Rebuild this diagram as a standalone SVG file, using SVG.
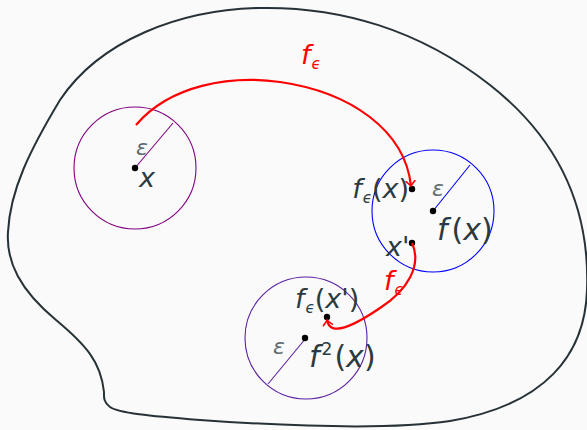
<svg xmlns="http://www.w3.org/2000/svg" width="587" height="430" viewBox="0 0 587 430">
<defs>
<style>
.bg{fill:#fafafa}
.blob{fill:none;stroke:#263238;stroke-width:2}
.ball{fill:none;stroke-width:1.1}
.dot{fill:#000}
.arr{fill:none;stroke:#ff0000;stroke-width:2.2}
.lbl{font-family:"DejaVu Sans","Noto Sans",sans-serif;fill:#2b3a40;font-size:27px}
.big{font-size:30px}
.it{font-style:italic}
.sub{font-size:15px;font-style:italic}
.eps{font-family:"DejaVu Sans","Noto Sans",sans-serif;font-style:italic;fill:#5f6b70;font-size:22px}
.red{fill:#ff0000}
</style>
<marker id="ah" viewBox="-6 -6 8 12" markerWidth="8" markerHeight="12" refX="0" refY="0" orient="auto" markerUnits="userSpaceOnUse">
<path d="M-5,-4.5 Q-1.5,-1 0,0 Q-1.5,1 -5,4.5" fill="none" stroke="#ff0000" stroke-width="1.6" stroke-linecap="round"/>
</marker>
</defs>
<rect class="bg" x="0" y="0" width="587" height="430"/>
<g id="space">
<path class="blob" d="M104,392 C101,362 86,345 56,320 C20,290 6,262 8,232 C10,190 30,150 60,100 C100,40 180,10 258,8 C340,6 420,30 490,85 C560,140 590,210 587,290 C585,355 545,405 450,421 C390,430 300,427 200,420 C150,416 118,413 110,407 C103,402 104,396 104,392 Z"/>
</g>
<g id="ball-x">
<circle class="ball" stroke="#800080" cx="135" cy="168" r="61"/>
<line x1="135" y1="168" x2="173" y2="123" stroke="#800080" stroke-width="1.1"/>
<circle class="dot" cx="135" cy="168" r="3.2"/>
<text class="eps" x="136" y="155">ε</text>
<text class="lbl it" x="139" y="187">x</text>
</g>
<g id="ball-fx">
<circle class="ball" stroke="#0000ff" cx="433" cy="211" r="61"/>
<line x1="433" y1="211" x2="470" y2="165" stroke="#0000ff" stroke-width="1.1"/>
<circle class="dot" cx="433" cy="211" r="3.2"/>
<circle class="dot" cx="412" cy="189" r="3.2"/>
<circle class="dot" cx="412" cy="243" r="3.2"/>
<text class="eps" x="432" y="196">ε</text>
<text class="lbl big" x="437" y="240"><tspan class="it">f</tspan><tspan dx="4">(</tspan><tspan class="it">x</tspan>)</text>
<text class="lbl" x="409" y="198" text-anchor="end"><tspan class="it">f</tspan><tspan class="sub" dx="1" dy="5">ϵ</tspan><tspan dy="-5">(</tspan><tspan class="it">x</tspan>)</text>
<text class="lbl it" x="386" y="256">x'</text>
</g>
<g id="ball-f2x">
<circle class="ball" stroke="#5a1fa0" cx="306" cy="338" r="61"/>
<line x1="306" y1="338" x2="268" y2="384" stroke="#5a1fa0" stroke-width="1.1"/>
<circle class="dot" cx="305" cy="338" r="3.2"/>
<circle class="dot" cx="327" cy="317" r="3.2"/>
<text class="eps" x="273" y="354">ε</text>
<text class="lbl big" x="309" y="367"><tspan class="it">f</tspan><tspan font-size="17" dx="2" dy="-12">2</tspan><tspan dx="2" dy="12">(</tspan><tspan class="it">x</tspan>)</text>
<text class="lbl" x="295" y="308"><tspan class="it">f</tspan><tspan class="sub" dx="1" dy="5">ϵ</tspan><tspan dy="-5">(</tspan><tspan class="it">x'</tspan>)</text>
</g>
<g id="connectors">
<path class="arr" marker-end="url(#ah)" d="M136,125 C170,85 230,75 280,82 C350,92 405,130 411,186"/>
<path class="arr" stroke-width="2" marker-end="url(#ah)" d="M412,243 C422,265 408,290 380,308 C355,325 330,338 327,320"/>
<text class="lbl red it" x="301" y="64">f<tspan class="sub" dx="1" dy="5">ϵ</tspan></text>
<text class="lbl red it" x="384" y="290">f<tspan class="sub" dx="1" dy="5">ϵ</tspan></text>
</g>
</svg>
